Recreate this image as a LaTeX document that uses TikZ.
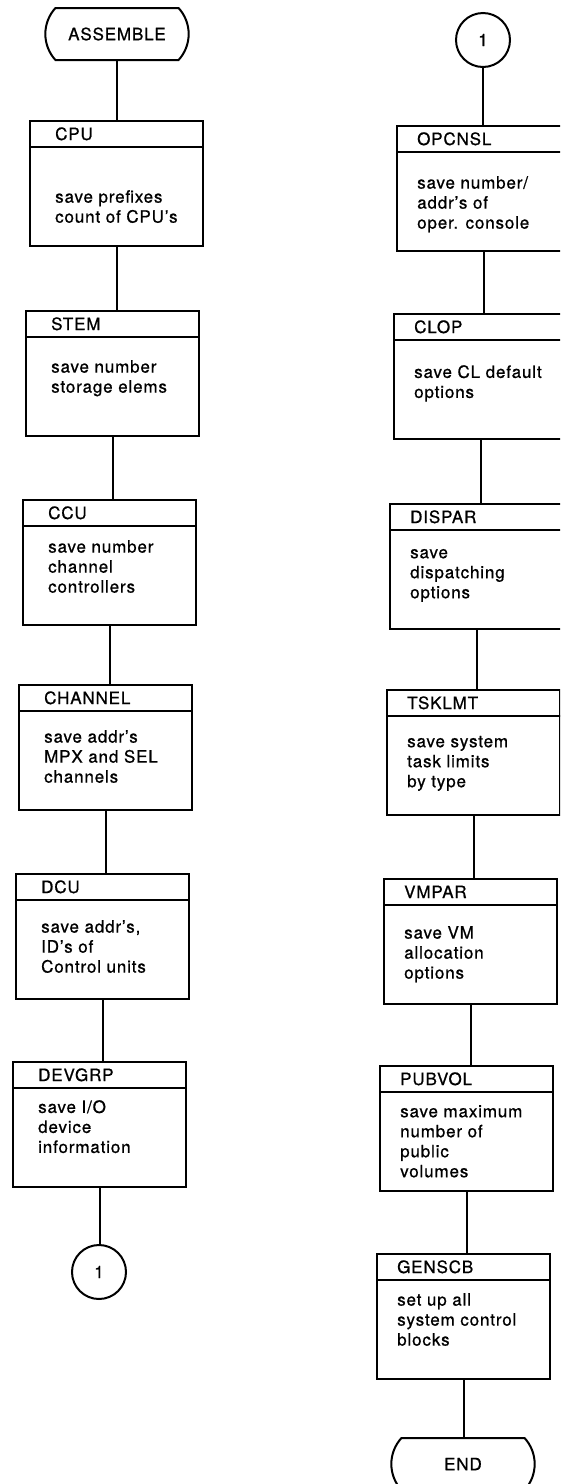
\documentclass[tikz,border=0pt]{standalone}
\usepackage{fontspec}
\setmainfont{TeX Gyre Heros}[LetterSpace=5,FakeBold=0.8]
\usetikzlibrary{shapes.misc}

\tikzset{
  pbox/.style={draw,line width=2pt,minimum width=173pt,minimum height=125pt,
    anchor=north west,inner sep=0pt},
  hd/.style={anchor=base west,inner sep=0pt},
  bd/.style={anchor=north west,inner sep=0pt,align=left},
  term/.style={draw,line width=2pt,rounded rectangle,
    rounded rectangle arc length=85,minimum width=150pt,minimum height=52pt},
  conn/.style={draw,line width=2pt,circle,minimum size=54pt,inner sep=0pt},
  link/.style={line width=2pt}
}

% box with a title strip: name, left, top, title, first baseline, text
\newcommand{\pbox}[6]{%
  \node[pbox] (#1) at (#2,#3) {};
  \draw[link] ([yshift=-27pt]#1.north west) -- ([yshift=-27pt]#1.north east);
  \node[hd] (#1-t) at ([shift={(\ind,20)}]#1.north west) {#4};
  \node[bd] (#1-b) at ([shift={(\ind,#5-12)}]#1.north west) {\rule{0pt}{12pt}#6};
}

\begin{document}
\begin{tikzpicture}[x=1pt,y=-1pt,font=\fontsize{17}{20}\selectfont]
  \useasboundingbox (0,0) rectangle (560,1484);
  \clip (0,0) rectangle (560,1484);

  % left column
  \node[term] (assemble) at (117,34) {ASSEMBLE};
  \def\ind{26}
  \pbox{cpu}{29}{120}{CPU}{82}{save prefixes\\count of CPU's}
  \pbox{stem}{25}{310}{STEM}{62}{save number\\storage elems}
  \pbox{ccu}{22}{499}{CCU}{53}{save number\\channel\\controllers}
  \pbox{channel}{18}{684}{CHANNEL}{58}{save addr's\\MPX and SEL\\channels}
  \pbox{dcu}{15}{873}{DCU}{59}{save addr's,\\ID's of\\Control units}
  \pbox{devgrp}{12}{1061}{DEVGRP}{51}{save I/O\\device\\information}
  \node[conn] (off1) at (99,1272) {1};

  % right column
  \node[conn] (on1) at (483,40) {1};
  \def\ind{21}
  \pbox{opcnsl}{396}{125}{OPCNSL}{63}{save number/\\addr's of\\oper. console}
  \pbox{clop}{393}{313}{CLOP}{64}{save CL default\\options}
  \pbox{dispar}{389}{503}{DISPAR}{55}{save\\dispatching\\options}
  \pbox{tsklmt}{386}{689}{TSKLMT}{58}{save system\\task limits\\by type}
  \pbox{vmpar}{383}{878}{VMPAR}{60}{save VM\\allocation\\options}
  \pbox{pubvol}{379}{1065}{PUBVOL}{52}{save maximum\\number of\\public\\volumes}
  \pbox{genscb}{376}{1253}{GENSCB}{52}{set up all\\system control\\blocks}
  \node[term] (end) at (463,1464) {END};

  \foreach \a/\b in {assemble/cpu,cpu/stem,stem/ccu,ccu/channel,channel/dcu,
      dcu/devgrp,devgrp/off1,on1/opcnsl,opcnsl/clop,clop/dispar,dispar/tsklmt,
      tsklmt/vmpar,vmpar/pubvol,pubvol/genscb,genscb/end}
    \draw[link] (\a.south) -- (\a.south |- \b.north);
\end{tikzpicture}
\end{document}
